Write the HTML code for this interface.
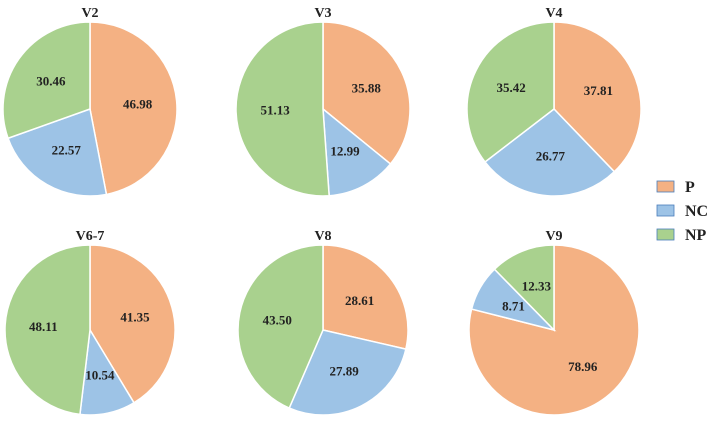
<!DOCTYPE html>
<html><head><meta charset="utf-8"><style>
body{margin:0;background:#fff;width:711px;height:417px;overflow:hidden}
svg text{font-family:"Liberation Serif","Times New Roman",serif;font-weight:bold;fill:#222}
</style></head><body>
<svg id="chart" width="711" height="417" xmlns="http://www.w3.org/2000/svg"></svg>
<script>
const titles=["V2","V3","V4","V6-7","V8","V9"];
const seriesP=[46.98,35.88,37.81,41.35,28.61,78.96];
const seriesNC=[22.57,12.99,26.77,10.54,27.89,8.71];
const seriesNP=[30.46,51.13,35.42,48.11,43.50,12.33];
const legendLabels=["P","NC","NP"];
const colors=["#F4B183","#9DC3E6","#A9D18E"];
const centers=[[90,109],[323,109],[554,109],[90,330],[323,330],[554,330]];
const svg=document.getElementById('chart');
const NS="http://www.w3.org/2000/svg";
function mk(t,a){const e=document.createElementNS(NS,t);for(const k in a)e.setAttribute(k,a[k]);svg.appendChild(e);return e;}
titles.forEach((t,i)=>{
  const [cx,cy]=centers[i];const r=i<3?87:85;
  const vals=[seriesP[i],seriesNC[i],seriesNP[i]];
  const tot=vals.reduce((a,b)=>a+b,0);
  let a0=0;
  vals.forEach((v,j)=>{
    const a1=a0+v/tot*2*Math.PI;
    const x0=cx+r*Math.sin(a0),y0=cy-r*Math.cos(a0),x1=cx+r*Math.sin(a1),y1=cy-r*Math.cos(a1);
    const large=(a1-a0)>Math.PI?1:0;
    const p=mk('path',{d:`M${cx},${cy}L${x0},${y0}A${r},${r} 0 ${large} 1 ${x1},${y1}Z`,fill:colors[j],stroke:"#fff","stroke-width":1.5});
    
    
    const am=(a0+a1)/2,lr=r*0.55;
    const tx=mk('text',{x:cx+lr*Math.sin(am),y:cy-lr*Math.cos(am)+4,"text-anchor":"middle","font-size":13});
    tx.textContent=v.toFixed(2);
    
    
    a0=a1;
  });
  const tt=mk('text',{x:cx,y:cy-r-5,"text-anchor":"middle","font-size":14});
  tt.textContent=t;
  
  
});
legendLabels.forEach((l,j)=>{
  const y=181+j*24;
  const b=mk('rect',{x:657,y:y,width:17,height:11,fill:colors[j],stroke:"#4a7ebb","stroke-width":0.8});
  
  
  const tx=mk('text',{x:685,y:y+11,"font-size":16});
  tx.textContent=l;
  
  
});
</script>
</body></html>
